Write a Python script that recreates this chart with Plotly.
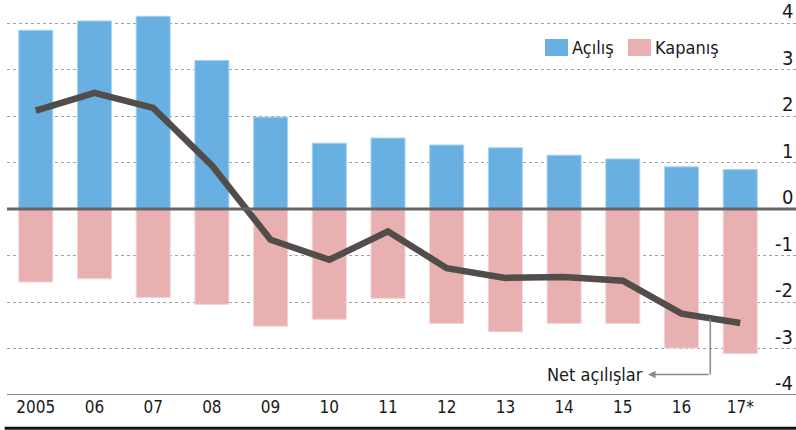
import plotly.graph_objects as go

years = ["2005", "06", "07", "08", "09", "10", "11", "12", "13", "14", "15", "16", "17*"]
acilis = [3.85, 4.05, 4.15, 3.20, 1.98, 1.42, 1.53, 1.38, 1.32, 1.16, 1.08, 0.91, 0.85]
kapanis = [-1.57, -1.50, -1.90, -2.05, -2.52, -2.37, -1.92, -2.46, -2.64, -2.46, -2.46, -2.99, -3.11]
net = [2.12, 2.50, 2.18, 0.94, -0.66, -1.09, -0.48, -1.27, -1.48, -1.46, -1.54, -2.25, -2.45]
yticks = [-4, -3, -2, -1, 0, 1, 2, 3, 4]

FONT = "DejaVu Sans Condensed, Liberation Sans Narrow, Roboto, sans-serif"
BLUE = "#68b0e1"
PINK = "#e8b0b0"
LINE = "#524d4a"
TXT = "#1a1a1a"

fig = go.Figure()
fig.add_trace(go.Bar(x=years, y=acilis, name="Açılış", width=0.58,
                     marker=dict(color=BLUE, line=dict(color="#a9d3ef", width=1))))
fig.add_trace(go.Bar(x=years, y=kapanis, name="Kapanış", width=0.58,
                     marker=dict(color=PINK, line=dict(color="#f3d5d5", width=1))))
fig.add_trace(go.Scatter(x=years, y=net, mode="lines", name="Net açılışlar",
                         line=dict(color=LINE, width=6.5)))

# zero line and bottom axis line
fig.add_shape(type="line", xref="paper", yref="y", x0=0, x1=1, y0=0, y1=0,
              line=dict(color="#666666", width=3), layer="above")
fig.add_shape(type="line", xref="paper", yref="y", x0=0, x1=1, y0=-4, y1=-4,
              line=dict(color="#8a8a8a", width=2), layer="above")
fig.add_shape(type="line", xref="paper", yref="paper", x0=-0.003, x1=1, y0=-0.084, y1=-0.084,
              line=dict(color="#111111", width=3))

# right-side value labels sitting on the gridlines
for v in yticks:
    fig.add_annotation(xref="paper", yref="y", x=1.0, y=v, text=str(v), showarrow=False,
                       xanchor="right", yanchor="bottom", xshift=-1, yshift=-2,
                       font=dict(family=FONT, size=20, color=TXT))

# custom legend
fig.add_shape(type="rect", xref="paper", yref="paper",
              x0=(545 - 7) / 789, x1=(568 - 7) / 789, y0=(395 - 56) / 395, y1=(395 - 39) / 395,
              fillcolor=BLUE, line=dict(width=0))
fig.add_annotation(xref="paper", yref="paper", x=(570 - 7) / 789, y=(395 - 47.5) / 395,
                   text="Açılış", showarrow=False, xanchor="left", yanchor="middle",
                   font=dict(family=FONT, size=18, color=TXT))
fig.add_shape(type="rect", xref="paper", yref="paper",
              x0=(628 - 7) / 789, x1=(651 - 7) / 789, y0=(395 - 56) / 395, y1=(395 - 39) / 395,
              fillcolor=PINK, line=dict(width=0))
fig.add_annotation(xref="paper", yref="paper", x=(653 - 7) / 789, y=(395 - 47.5) / 395,
                   text="Kapanış", showarrow=False, xanchor="left", yanchor="middle",
                   font=dict(family=FONT, size=18, color=TXT))

# Net açılışlar callout
fig.add_shape(type="line", xref="x", yref="y", x0=11.49, x1=11.49, y0=-2.36, y1=-3.56,
              line=dict(color="#8a8a8a", width=1.5))
fig.add_annotation(xref="x", yref="y", x=10.43, y=-3.56, ax=11.49, ay=-3.56,
                   axref="x", ayref="y", text="", showarrow=True,
                   arrowhead=2, arrowsize=1, arrowwidth=1.5, arrowcolor="#8a8a8a")
fig.add_annotation(xref="x", yref="y", x=10.38, y=-3.56, text="Net açılışlar",
                   showarrow=False, xanchor="right", yanchor="middle",
                   font=dict(family=FONT, size=18, color=TXT))

fig.update_layout(
    width=796, height=430,
    margin=dict(l=7, r=0, t=0, b=35, autoexpand=False),
    barmode="relative",
    showlegend=False,
    hovermode=False,
    plot_bgcolor="white", paper_bgcolor="white",
    font=dict(family=FONT, color=TXT),
    xaxis=dict(type="category", range=[-0.49, 12.95], showgrid=False, zeroline=False,
               showline=False, ticks="", tickfont=dict(size=17), tickangle=0,
               automargin=False),
    yaxis=dict(range=[-4, 4.5], tickvals=yticks, showticklabels=False,
               showgrid=True, gridcolor="#a0a0a0", gridwidth=1, griddash="3px,3px",
               zeroline=False, showline=False, ticks="", automargin=False),
)

fig.write_html("out.html", config={"displayModeBar": False},
               post_script="document.body.style.margin='0';document.body.style.overflow='hidden';")
